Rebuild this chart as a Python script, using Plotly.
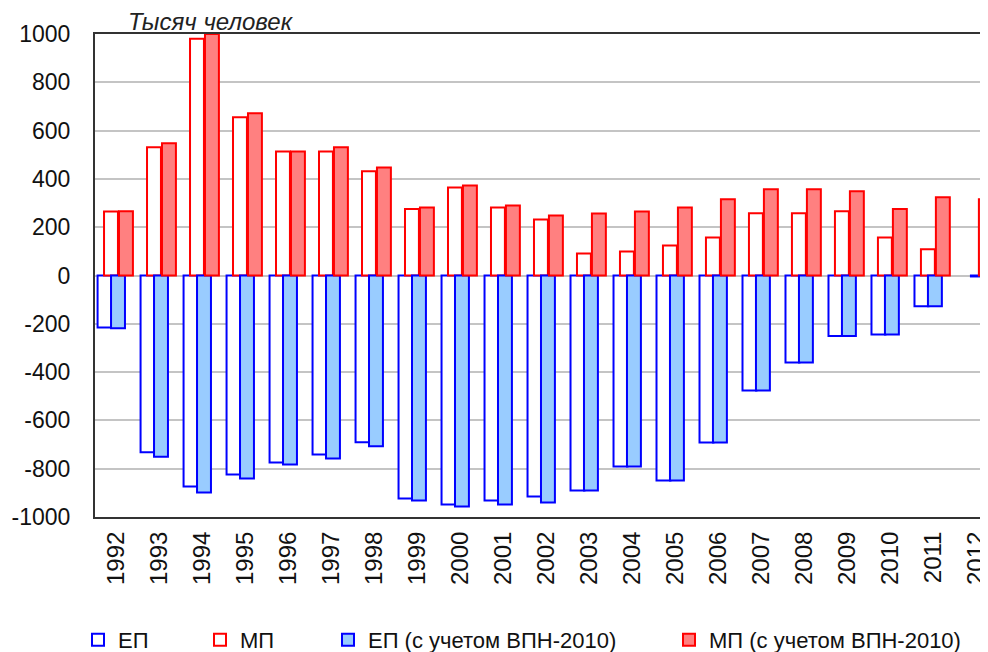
import plotly.graph_objects as go

# --- данные (тыс. человек) ---
years = [str(y) for y in range(1992, 2013)]

ep = [-215, -732, -874, -824, -774, -741, -690, -923, -948, -932, -915,
      -890, -791, -849, -692, -476, -360, -251, -244, -127, None]
mp = [265, 531, 980, 655, 513, 513, 432, 275, 364, 282, 232,
      91, 99, 124, 157, 258, 258, 266, 157, 109, None]
ep_adj = [-218, -750, -899, -841, -783, -758, -707, -932, -957, -948, -940,
          -890, -791, -849, -692, -476, -360, -251, -244, -127, -4]
mp_adj = [266, 548, 1000, 672, 513, 531, 447, 282, 373, 290, 248,
          257, 265, 282, 316, 357, 357, 349, 275, 324, 316]

y_ticks = list(range(-1000, 1001, 200))
y_ticktext = [str(v) for v in y_ticks]

FONT = "Liberation Sans, Arial, sans-serif"
BLUE, RED = "#0000FF", "#FF0000"

W, H = 988, 652
OFF = 8  # страница html имеет отступ body 8px
# область графика (в пикселях экрана): x 95..988, y 34..517
PW, PH = 893, 483


def px_x(px):
    return (px - 95) / PW


series = [
    # name, values, fill, line, offset, legend
    ("ЕП", ep, "white", BLUE, -0.44, "legend"),
    ("МП", mp, "white", RED, -0.29, "legend2"),
    ("ЕП (с учетом ВПН-2010)", ep_adj, "#99CCFF", BLUE, -0.127, "legend3"),
    ("МП (с учетом ВПН-2010)", mp_adj, "#FF8080", RED, 0.058, "legend4"),
]

fig = go.Figure()
for name, vals, fill, line, off, leg in series:
    fig.add_trace(go.Bar(
        x=years, y=vals, name=name,
        offset=off, width=0.324,
        marker=dict(color=fill, line=dict(color=line, width=2)),
        legend=leg,
    ))

# каждая подпись легенды стоит отдельно, как в оригинале
leg_common = dict(
    orientation="h", xref="container", yref="container",
    yanchor="middle", y=1 - (640 - OFF) / H, xanchor="left",
    font=dict(family=FONT, size=22, color="#111"),
    bgcolor="rgba(0,0,0,0)", itemwidth=30,
)
text_starts = [115, 237, 365, 706]
legs = {}
for key, tx in zip(["legend", "legend2", "legend3", "legend4"], text_starts):
    legs[key] = dict(leg_common, x=(tx - 45) / W)

fig.update_layout(
    barmode="overlay",
    width=W, height=H,
    margin=dict(l=95 - OFF, r=OFF, t=34 - OFF, b=H - (517 - OFF)),
    paper_bgcolor="white", plot_bgcolor="white",
    font=dict(family=FONT, size=22, color="#111"),
    showlegend=True,
    xaxis=dict(
        type="category", range=[-0.5, 20.27], automargin=False,
        tickangle=-90, ticks="", ticklabelstandoff=3,
        showline=True, mirror=True, linecolor="#333", linewidth=2,
        showgrid=False,
        tickfont=dict(family=FONT, size=24, color="#111"),
    ),
    yaxis=dict(
        range=[-1000, 1000], tickvals=y_ticks, ticktext=y_ticktext,
        automargin=False,
        showline=True, linecolor="#333", linewidth=2,
        showgrid=True, gridcolor="#C4C4C4", gridwidth=1.5,
        zeroline=True, zerolinecolor="#C4C4C4", zerolinewidth=1.5,
        ticks="", ticklabelstandoff=18,
        tickfont=dict(family=FONT, size=23, color="#111"),
    ),
    annotations=[dict(
        text="<i>Тысяч человек</i>", xref="paper", yref="paper",
        x=px_x(126), y=1 + (34 - 22) / PH, xanchor="left", yanchor="middle",
        showarrow=False, font=dict(family=FONT, size=24, color="#222"),
    )],
    **legs,
)

fig.write_html("out.html")
